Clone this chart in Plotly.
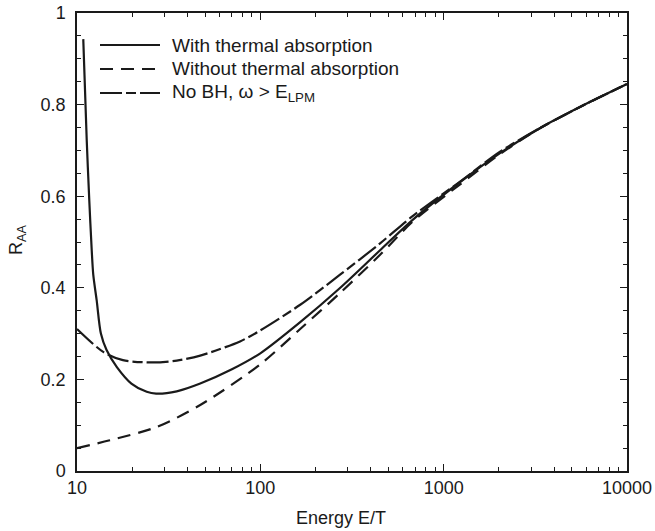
import plotly.graph_objects as go

# With thermal absorption (solid)
e_with = [10.82, 11.3, 11.67, 12.03, 12.27, 12.8, 13.5, 14.5, 16.5, 19.8, 24.0, 27, 35, 47, 70, 100, 165, 271, 450, 680, 1230, 2030, 3400, 6300, 10000]
r_with = [0.943, 0.722, 0.59, 0.482, 0.428, 0.373, 0.30, 0.264, 0.227, 0.191, 0.173, 0.169, 0.174, 0.191, 0.222, 0.257, 0.325, 0.399, 0.482, 0.549, 0.631, 0.694, 0.75, 0.806, 0.845]

# Without thermal absorption (dashed)
e_without = [10, 15.1, 27.2, 47, 100, 165, 271, 450, 680, 1230, 2030, 3400, 6300, 10000]
r_without = [0.05, 0.067, 0.096, 0.144, 0.233, 0.31, 0.388, 0.472, 0.545, 0.626, 0.692, 0.75, 0.806, 0.845]

# No BH, omega > E_LPM (dash-dot)
e_nobh = [10, 13.9, 17.8, 26, 35, 47, 77.5, 100, 165, 271, 450, 680, 1230, 2030, 3400, 6300, 10000]
r_nobh = [0.31, 0.26, 0.242, 0.237, 0.241, 0.252, 0.283, 0.307, 0.363, 0.428, 0.497, 0.557, 0.632, 0.697, 0.75, 0.806, 0.845]

series_names = ["With thermal absorption", "Without thermal absorption", "No BH, ω > E<sub>LPM</sub>"]
x_ticks = [10, 100, 1000, 10000]
x_minor = [m * d for d in (10, 100, 1000) for m in range(2, 10)]

ink = "#1a1a1a"
font_family = "Liberation Sans, Arial, sans-serif"
dashes = ["solid", "13px,8px", "22px,4px,10px,4px"]

# plot area in pixels
L, R, T, B = 77, 627, 13, 471
W, H = R - L, B - T

def px_x(p):
    return (p - L) / W

def px_y(p):
    return (B - p) / H

fig = go.Figure()
for xs, ys, name, dash in zip([e_with, e_without, e_nobh], [r_with, r_without, r_nobh], series_names, dashes):
    fig.add_trace(go.Scatter(x=xs, y=ys, mode="lines", name=name, showlegend=False,
                             line=dict(color=ink, width=2.2, dash=dash, shape="spline", smoothing=0.8)))

axis_common = dict(showline=True, linecolor=ink, linewidth=1.5, mirror="allticks",
                   ticks="inside", ticklen=7, tickwidth=1.3, tickcolor=ink,
                   showgrid=False, zeroline=False, automargin=False,
                   tickfont=dict(size=18, color=ink, family=font_family))

fig.update_xaxes(type="log", range=[1, 4], tickvals=x_ticks, ticktext=[str(v) for v in x_ticks],
                 minor=dict(ticks="inside", ticklen=4, tickwidth=1.2, tickcolor=ink, tickvals=x_minor, showgrid=False),
                 ticklabelstandoff=0, **axis_common)
fig.update_yaxes(range=[0, 1], dtick=0.2, tick0=0,
                 minor=dict(ticks="inside", ticklen=4, tickwidth=1.2, tickcolor=ink, dtick=0.05, showgrid=False),
                 ticklabelstandoff=6, **axis_common)

fig.add_annotation(text="Energy E/T", xref="paper", yref="paper", x=px_x(341), y=px_y(518),
                   xanchor="center", yanchor="middle", showarrow=False,
                   font=dict(size=18, color=ink, family=font_family))
fig.add_annotation(text="R<sub>AA</sub>", xref="paper", yref="paper", x=px_x(17), y=px_y(240),
                   xanchor="center", yanchor="middle", showarrow=False, textangle=-90,
                   font=dict(size=18, color=ink, family=font_family))

# legend drawn as line samples + labels
legend_rows = [45, 69, 93]
for name, dash, row in zip(series_names, dashes, legend_rows):
    fig.add_shape(type="line", xref="paper", yref="paper", x0=px_x(100), x1=px_x(160),
                  y0=px_y(row), y1=px_y(row), line=dict(color=ink, width=2.2, dash=dash))
    fig.add_annotation(text=name, xref="paper", yref="paper", x=px_x(170), y=px_y(row),
                       xanchor="left", yanchor="middle", showarrow=False,
                       font=dict(size=19, color=ink, family=font_family))

fig.update_layout(
    width=655, height=531,
    margin=dict(l=L, r=655 - R, t=T, b=531 - B, autoexpand=False),
    paper_bgcolor="white", plot_bgcolor="white",
    font=dict(family=font_family, color=ink, size=18),
    showlegend=False,
)

fig.write_html("out.html", config={"displayModeBar": False},
               post_script="document.body.style.margin='0';document.body.style.overflow='hidden';")
